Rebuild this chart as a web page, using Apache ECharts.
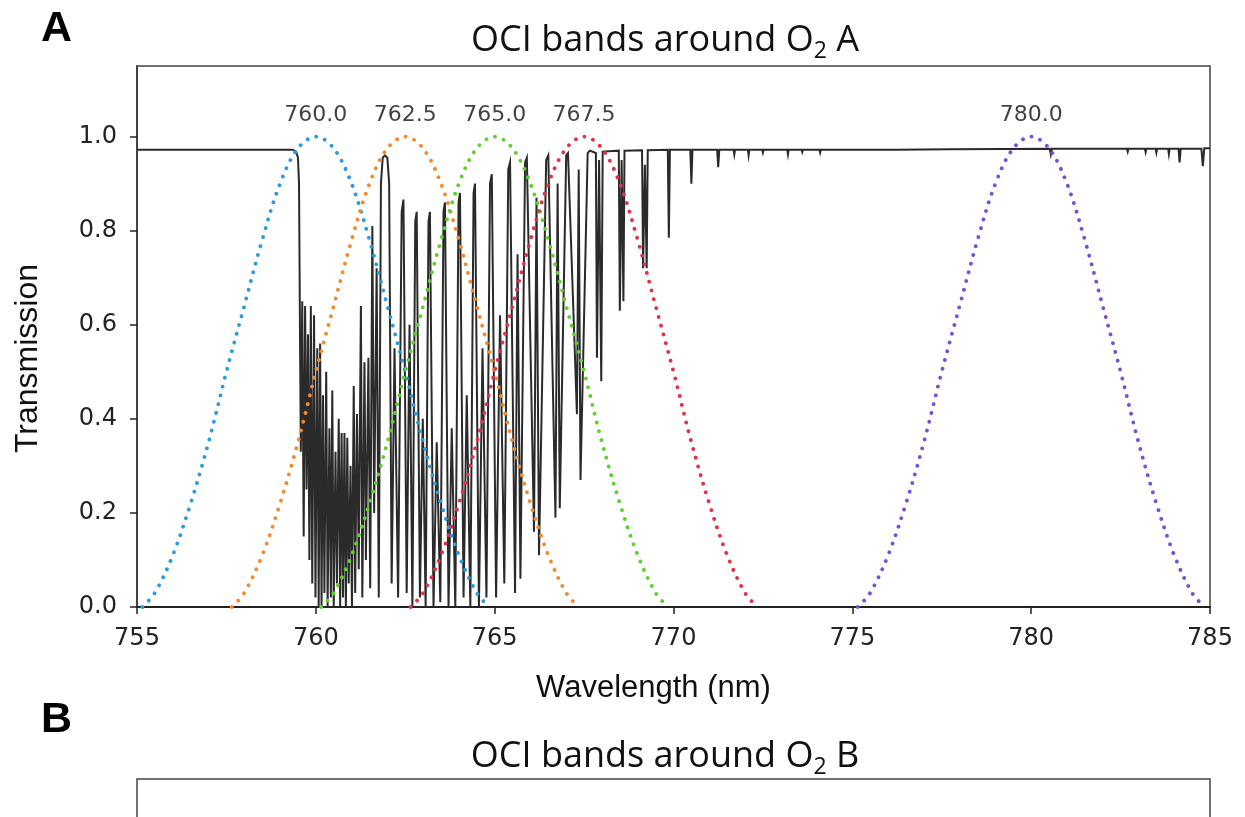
<!DOCTYPE html>
<html>
<head>
<meta charset="utf-8">
<script src="https://cdn.jsdelivr.net/npm/echarts@6/dist/echarts.min.js"></script>
<style>html,body{margin:0;padding:0;background:#fff;}#c{width:1245px;height:817px;}</style>
</head>
<body>
<div id="c"></div>
<script>
// ---- data ----
const xTicks = [755, 760, 765, 770, 775, 780, 785];
const yTicks = [0.0, 0.2, 0.4, 0.6, 0.8, 1.0];
const bandCenters = [760.0, 762.5, 765.0, 767.5, 780.0];
const bandColors = ['#2b9be0', '#f28b2e', '#5fd12f', '#e5304a', '#7a4fd6'];
const bandOffsets = [-4.85,-4.5,-4,-3.5,-3,-2.5,-2,-1.5,-1,-0.5,0,0.5,1,1.5,2,2.5,3,3.5,4,4.5,4.85];
const band760 = [0,0.03,0.11,0.22,0.35,0.50,0.64,0.78,0.90,0.975,1.0,0.975,0.90,0.78,0.64,0.50,0.35,0.22,0.11,0.03,0];
const band762 = [0,0.03,0.11,0.22,0.35,0.50,0.64,0.78,0.90,0.975,1.0,0.975,0.90,0.78,0.64,0.50,0.35,0.22,0.11,0.03,0];
const band765 = [0,0.03,0.11,0.22,0.35,0.50,0.64,0.78,0.90,0.975,1.0,0.975,0.90,0.78,0.64,0.50,0.35,0.22,0.11,0.03,0];
const band767 = [0,0.03,0.11,0.22,0.35,0.50,0.64,0.78,0.90,0.975,1.0,0.975,0.90,0.78,0.64,0.50,0.35,0.22,0.11,0.03,0];
const band780 = [0,0.03,0.11,0.22,0.35,0.50,0.64,0.78,0.90,0.975,1.0,0.975,0.90,0.78,0.64,0.50,0.35,0.22,0.11,0.03,0];
const bandValues = [band760, band762, band765, band767, band780];

// O2 A-band transmission spectrum [wavelength nm, transmission]
const spectrum = [
[755.0,0.972],[759.35,0.972],[759.45,0.968],[759.50,0.955],[759.53,0.90],
[759.56,0.55],[759.58,0.33],[759.62,0.65],[759.66,0.15],[759.70,0.64],[759.74,0.25],[759.78,0.58],
[759.82,0.10],[759.86,0.64],[759.90,0.05],[759.95,0.62],[759.99,0.02],[760.04,0.55],[760.08,0.00],
[760.12,0.56],[760.16,0.00],[760.20,0.45],[760.24,0.03],[760.29,0.50],[760.33,0.00],[760.38,0.38],
[760.42,0.02],[760.46,0.46],[760.50,0.00],[760.55,0.33],[760.59,0.05],[760.64,0.40],[760.68,0.00],
[760.72,0.37],[760.76,0.02],[760.80,0.37],[760.84,0.00],[760.88,0.36],[760.92,0.05],[760.97,0.30],
[761.01,0.00],[761.06,0.47],[761.10,0.03],[761.15,0.41],[761.20,0.08],[761.26,0.64],[761.30,0.02],
[761.36,0.52],[761.40,0.10],[761.47,0.53],[761.52,0.04],[761.58,0.81],[761.63,0.20],[761.70,0.72],
[761.76,0.02],[761.82,0.90],[761.87,0.955],[761.93,0.96],[762.00,0.955],[762.05,0.90],
[762.12,0.05],[762.20,0.55],[762.30,0.02],[762.40,0.84],[762.45,0.866],
[762.54,0.03],[762.62,0.60],[762.70,0.00],[762.78,0.82],[762.82,0.84],
[762.91,0.02],[762.99,0.40],[763.07,0.00],[763.15,0.82],[763.19,0.84],
[763.29,0.00],[763.38,0.35],[763.48,0.01],[763.57,0.84],[763.61,0.86],
[763.71,0.00],[763.80,0.38],[763.90,0.00],[763.99,0.86],[764.03,0.88],
[764.13,0.02],[764.22,0.45],[764.32,0.00],[764.41,0.88],[764.45,0.90],
[764.56,0.00],[764.66,0.55],[764.77,0.02],[764.87,0.90],[764.92,0.92],
[765.04,0.02],[765.15,0.62],[765.27,0.05],[765.38,0.93],[765.43,0.945],
[765.57,0.03],[765.64,0.75],[765.72,0.06],[765.85,0.945],[765.90,0.955],
[766.10,0.16],[766.17,0.87],[766.24,0.11],[766.44,0.95],[766.50,0.96],
[766.70,0.19],[766.76,0.90],[766.82,0.21],[767.00,0.96],[767.05,0.965],
[767.30,0.41],[767.35,0.93],[767.40,0.27],[767.60,0.965],[767.66,0.97],
[767.83,0.965],[767.86,0.53],[767.92,0.95],[767.98,0.48],[768.02,0.968],
[768.47,0.970],[768.50,0.63],[768.55,0.95],[768.60,0.65],[768.63,0.970],
[769.12,0.971],[769.15,0.72],[769.20,0.94],[769.25,0.72],[769.28,0.971],
[769.84,0.972],[769.87,0.785],[769.90,0.972],
[770.47,0.972],[770.50,0.90],[770.53,0.972],
[771.22,0.972],[771.25,0.935],[771.28,0.972],
[771.68,0.972],[771.70,0.962],[771.72,0.972],
[772.08,0.972],[772.10,0.960],[772.12,0.972],
[772.48,0.972],[772.50,0.966],[772.52,0.972],
[773.18,0.972],[773.20,0.962],[773.22,0.972],
[773.58,0.972],[773.60,0.967],[773.62,0.972],
[774.08,0.972],[774.10,0.966],[774.12,0.972],
[775.28,0.972],[775.30,0.969],[775.32,0.972],
[776.18,0.972],[776.20,0.969],[776.22,0.972],
[777.78,0.973],[777.80,0.970],[777.82,0.973],
[780.52,0.974],[780.55,0.962],[780.58,0.974],
[782.68,0.974],[782.70,0.968],[782.72,0.974],
[783.18,0.974],[783.20,0.967],[783.22,0.974],
[783.48,0.974],[783.50,0.966],[783.52,0.974],
[783.83,0.974],[783.85,0.963],[783.87,0.974],
[784.12,0.974],[784.15,0.945],[784.18,0.974],
[784.76,0.974],[784.80,0.937],[784.84,0.975],[785.0,0.975]
];

// ---- chart ----
const chart = echarts.init(document.getElementById('c'), null, {renderer: 'canvas'});

const series = [{
  type: 'line', xAxisIndex: 0, yAxisIndex: 0,
  data: spectrum, symbol: 'none', silent: true, z: 2,
  lineStyle: {color: '#2a2a2a', width: 2.0, join: 'miter'}
}];
bandCenters.forEach((c, i) => {
  series.push({
    type: 'line', xAxisIndex: 0, yAxisIndex: 0,
    data: bandOffsets.map((o, k) => [c + o, bandValues[i][k]]),
    symbol: 'none', smooth: 0.35, silent: true, z: 3,
    lineStyle: {color: bandColors[i], width: 3.8, type: [0.1, 9], cap: 'round'}
  });
});
series.push({
  type: 'scatter', xAxisIndex: 0, yAxisIndex: 0,
  data: bandCenters.map(c => [c, 1.0]), symbolSize: 0, silent: true,
  label: {show: true, position: 'top', distance: 10, color: '#111',
    fontFamily: 'DejaVu Sans', fontSize: 22,
    formatter: p => p.value[0].toFixed(1)}
});

// titles with a subscript "2": pieces placed side by side
const TF = 36, SF = 23, TFAM = '"Open Sans"';
const mctx = document.createElement('canvas').getContext('2d');
function w(txt, size) { mctx.font = size + 'px ' + TFAM; return mctx.measureText(txt).width; }
function titleParts(letter, cx, cy) {
  const a = 'OCI bands around O', b = '2', c = ' ' + letter;
  const total = w(a, TF) + w(b, SF) + w(c, TF);
  const x0 = cx - total / 2;
  const st = {fontFamily: 'Open Sans', fill: '#111', align: 'left', verticalAlign: 'middle'};
  return [
    {type: 'text', x: x0, y: cy, style: Object.assign({text: a, fontSize: TF}, st)},
    {type: 'text', x: x0 + w(a, TF), y: cy + 10, style: Object.assign({text: b, fontSize: SF}, st)},
    {type: 'text', x: x0 + w(a, TF) + w(b, SF), y: cy, style: Object.assign({text: c, fontSize: TF}, st)}
  ];
}

const option = {
  backgroundColor: '#fff',
  animation: false,
  grid: [
    {left: 137, right: 35, top: 66, height: 541, show: true, borderColor: '#444', borderWidth: 1.5},
    {left: 137, right: 35, top: 779, height: 300, show: true, borderColor: '#444', borderWidth: 1.5}
  ],
  xAxis: [{
    gridIndex: 0, type: 'value', min: 755, max: 785, interval: 5,
    name: 'Wavelength (nm)', nameLocation: 'middle', nameGap: 66,
    nameTextStyle: {fontFamily: 'Liberation Sans', fontSize: 31, color: '#111', padding: [0, 40, 0, 0]},
    axisLine: {show: true, onZero: false, lineStyle: {color: '#222', width: 2}},
    axisTick: {show: true, length: 7, lineStyle: {color: '#222', width: 1.5}},
    axisLabel: {margin: 20, fontFamily: 'DejaVu Sans', fontSize: 24, color: '#222',
      formatter: v => xTicks.indexOf(v) >= 0 ? String(v) : ''},
    splitLine: {show: false}
  }, {
    gridIndex: 1, type: 'value', min: 0, max: 1, show: false
  }],
  yAxis: [{
    gridIndex: 0, type: 'value', min: 0, max: 1.15, interval: 0.2,
    name: 'Transmission', nameLocation: 'middle', nameGap: 93,
    nameTextStyle: {fontFamily: 'Liberation Sans', fontSize: 32, color: '#111', padding: [0, 44, 0, 0]},
    axisLine: {show: true, onZero: false, lineStyle: {color: '#333', width: 1.5}},
    axisTick: {show: true, length: 7, lineStyle: {color: '#222', width: 1.5}},
    axisLabel: {margin: 20, fontFamily: 'DejaVu Sans', fontSize: 24, color: '#222', showMaxLabel: false,
      formatter: v => {
        const m = yTicks.find(t => Math.abs(t - v) < 1e-6);
        return m === undefined ? '' : m.toFixed(1);
      }},
    splitLine: {show: false}
  }, {
    gridIndex: 1, type: 'value', min: 0, max: 1, show: false
  }],
  graphic: [
    {type: 'text', x: 41, y: 29, style: {text: 'A', fontFamily: 'Liberation Sans', fontWeight: 'bold', fontSize: 43, fill: '#000', align: 'left', verticalAlign: 'middle'}},
    {type: 'text', x: 41, y: 720, style: {text: 'B', fontFamily: 'Liberation Sans', fontWeight: 'bold', fontSize: 43, fill: '#000', align: 'left', verticalAlign: 'middle'}}
  ].concat(titleParts('A', 665, 41), titleParts('B', 665, 757)),
  series: series
};
chart.setOption(option);
</script>
</body>
</html>
